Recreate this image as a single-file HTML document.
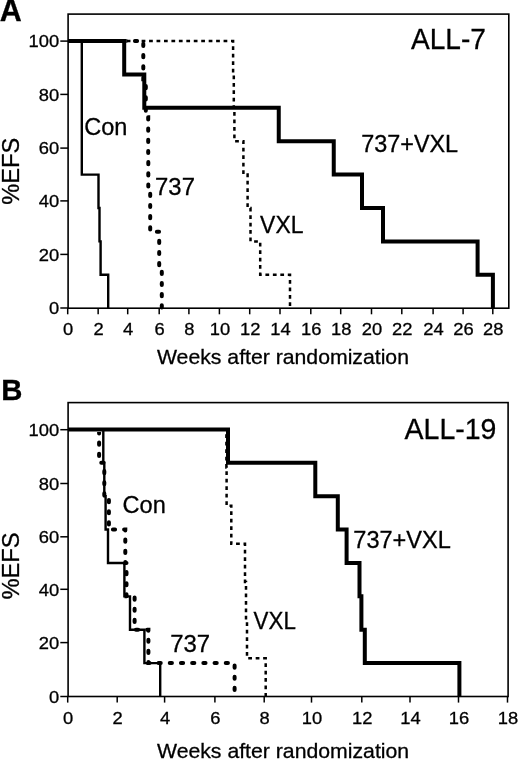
<!DOCTYPE html>
<html><head><meta charset="utf-8"><style>
html,body{margin:0;padding:0;background:#fff;}
svg{display:block;will-change:transform;}
text{font-family:"Liberation Sans", sans-serif;fill:#000;}
</style></head><body>
<svg width="520" height="762" viewBox="0 0 520 762">
<rect x="68.1" y="14.1" width="440.70" height="294.10" fill="none" stroke="#000" stroke-width="1.6"/>
<line x1="60.3" y1="308.00" x2="68.1" y2="308.00" stroke="#000" stroke-width="1.5"/>
<line x1="60.3" y1="254.40" x2="68.1" y2="254.40" stroke="#000" stroke-width="1.5"/>
<line x1="60.3" y1="200.90" x2="68.1" y2="200.90" stroke="#000" stroke-width="1.5"/>
<line x1="60.3" y1="148.10" x2="68.1" y2="148.10" stroke="#000" stroke-width="1.5"/>
<line x1="60.3" y1="94.40" x2="68.1" y2="94.40" stroke="#000" stroke-width="1.5"/>
<line x1="60.3" y1="41.10" x2="68.1" y2="41.10" stroke="#000" stroke-width="1.5"/>
<line x1="67.70" y1="308.20" x2="67.70" y2="314.30" stroke="#000" stroke-width="1.5"/>
<line x1="98.15" y1="308.20" x2="98.15" y2="314.30" stroke="#000" stroke-width="1.5"/>
<line x1="127.70" y1="308.20" x2="127.70" y2="314.30" stroke="#000" stroke-width="1.5"/>
<line x1="159.20" y1="308.20" x2="159.20" y2="314.30" stroke="#000" stroke-width="1.5"/>
<line x1="188.90" y1="308.20" x2="188.90" y2="314.30" stroke="#000" stroke-width="1.5"/>
<line x1="219.40" y1="308.20" x2="219.40" y2="314.30" stroke="#000" stroke-width="1.5"/>
<line x1="249.70" y1="308.20" x2="249.70" y2="314.30" stroke="#000" stroke-width="1.5"/>
<line x1="280.00" y1="308.20" x2="280.00" y2="314.30" stroke="#000" stroke-width="1.5"/>
<line x1="310.80" y1="308.20" x2="310.80" y2="314.30" stroke="#000" stroke-width="1.5"/>
<line x1="340.70" y1="308.20" x2="340.70" y2="314.30" stroke="#000" stroke-width="1.5"/>
<line x1="371.50" y1="308.20" x2="371.50" y2="314.30" stroke="#000" stroke-width="1.5"/>
<line x1="401.80" y1="308.20" x2="401.80" y2="314.30" stroke="#000" stroke-width="1.5"/>
<line x1="433.10" y1="308.20" x2="433.10" y2="314.30" stroke="#000" stroke-width="1.5"/>
<line x1="463.10" y1="308.20" x2="463.10" y2="314.30" stroke="#000" stroke-width="1.5"/>
<line x1="492.80" y1="308.20" x2="492.80" y2="314.30" stroke="#000" stroke-width="1.5"/>
<defs><clipPath id="cA"><path clip-rule="evenodd" d="M0,0H520V762H0Z M66,38.40H126.2V43.60H66Z"/></clipPath><clipPath id="cB"><path clip-rule="evenodd" d="M0,0H520V762H0Z M66,426.80H230V432.00H66Z"/></clipPath></defs>
<path d="M68.1,41.0 H233.1 V74.4 H233.8 V107.8 H234.4 V141.2 H243.4 V174.6 H247.6 V208.0 H250.5 V241.4 H260.2 V274.8 H290 V308.2" fill="none" stroke="#000" stroke-width="2.5" stroke-linecap="butt" stroke-linejoin="miter" clip-path="url(#cA)" stroke-dasharray="3.75 3.7" stroke-dashoffset="0.98"/>
<path d="M68.1,41.0 H143.3 V79.17 H145.8 V117.34 H148.2 V155.51 H148.3 V193.69 H150.2 V231.86 H159.2 V270.03 H161.8 V308.2" fill="none" stroke="#000" stroke-width="4.0" stroke-linecap="round" stroke-linejoin="miter" clip-path="url(#cA)" stroke-dasharray="2.2 9.0" stroke-dashoffset="0.38"/>
<path d="M68.1,41.0 H81.8 V174.6 H98.5 V208.0 H99.5 V241.4 H100.6 V274.8 H108.2 V308.2" fill="none" stroke="#000" stroke-width="2.4" stroke-linecap="butt" stroke-linejoin="miter"/>
<path d="M68.1,41.0 H124.2 V74.4 H144.3 V107.8 H278.75 V141.2 H333.75 V174.6 H362 V208.0 H383 V241.4 H477.6 V274.8 H492.9 V308.2" fill="none" stroke="#000" stroke-width="4.0" stroke-linecap="butt" stroke-linejoin="miter"/>
<rect x="68.1" y="402.6" width="440.00" height="293.90" fill="none" stroke="#000" stroke-width="1.6"/>
<line x1="60.3" y1="696.50" x2="68.1" y2="696.50" stroke="#000" stroke-width="1.5"/>
<line x1="60.3" y1="642.60" x2="68.1" y2="642.60" stroke="#000" stroke-width="1.5"/>
<line x1="60.3" y1="589.30" x2="68.1" y2="589.30" stroke="#000" stroke-width="1.5"/>
<line x1="60.3" y1="536.80" x2="68.1" y2="536.80" stroke="#000" stroke-width="1.5"/>
<line x1="60.3" y1="483.50" x2="68.1" y2="483.50" stroke="#000" stroke-width="1.5"/>
<line x1="60.3" y1="429.70" x2="68.1" y2="429.70" stroke="#000" stroke-width="1.5"/>
<line x1="67.70" y1="696.50" x2="67.70" y2="702.60" stroke="#000" stroke-width="1.5"/>
<line x1="117.20" y1="696.50" x2="117.20" y2="702.60" stroke="#000" stroke-width="1.5"/>
<line x1="164.60" y1="696.50" x2="164.60" y2="702.60" stroke="#000" stroke-width="1.5"/>
<line x1="214.90" y1="696.50" x2="214.90" y2="702.60" stroke="#000" stroke-width="1.5"/>
<line x1="264.20" y1="696.50" x2="264.20" y2="702.60" stroke="#000" stroke-width="1.5"/>
<line x1="311.50" y1="696.50" x2="311.50" y2="702.60" stroke="#000" stroke-width="1.5"/>
<line x1="361.80" y1="696.50" x2="361.80" y2="702.60" stroke="#000" stroke-width="1.5"/>
<line x1="410.00" y1="696.50" x2="410.00" y2="702.60" stroke="#000" stroke-width="1.5"/>
<line x1="458.50" y1="696.50" x2="458.50" y2="702.60" stroke="#000" stroke-width="1.5"/>
<line x1="507.50" y1="696.50" x2="507.50" y2="702.60" stroke="#000" stroke-width="1.5"/>
<path d="M68.1,429.4 H226.4 V467.56 H226.6 V505.71 H231.3 V543.87 H245 V582.03 H246 V620.19 H247 V658.34 H265.7 V696.5" fill="none" stroke="#000" stroke-width="2.5" stroke-linecap="butt" stroke-linejoin="miter" clip-path="url(#cB)" stroke-dasharray="3.75 3.7" stroke-dashoffset="0.68"/>
<path d="M68.1,429.4 H99.1 V462.79 H104.3 V496.17 H108.9 V529.56 H125.3 V562.95 H126.5 V596.34 H134.6 V629.72 H148.4 V663.11 H234.6 V696.5" fill="none" stroke="#000" stroke-width="4.0" stroke-linecap="round" stroke-linejoin="miter" clip-path="url(#cB)" stroke-dasharray="2.2 9.0" stroke-dashoffset="0.65"/>
<path d="M68.1,429.4 H103.3 V462.79 H104.3 V496.17 H105.6 V529.56 H108 V562.95 H124.4 V596.34 H130 V629.72 H144.4 V663.11 H160.2 V696.5" fill="none" stroke="#000" stroke-width="2.4" stroke-linecap="butt" stroke-linejoin="miter"/>
<path d="M68.1,429.4 H228 V462.79 H315.3 V496.17 H337.8 V529.56 H346.6 V562.95 H359.5 V596.34 H361.4 V629.72 H364.8 V663.11 H459.4 V696.5" fill="none" stroke="#000" stroke-width="4.0" stroke-linecap="butt" stroke-linejoin="miter"/>
<text x="59.20" y="314.30" font-size="17.0" text-anchor="end" textLength="10.21" lengthAdjust="spacingAndGlyphs" stroke="#000" stroke-width="0.3">0</text>
<text x="59.20" y="260.70" font-size="17.0" text-anchor="end" textLength="20.42" lengthAdjust="spacingAndGlyphs" stroke="#000" stroke-width="0.3">20</text>
<text x="59.20" y="207.20" font-size="17.0" text-anchor="end" textLength="20.42" lengthAdjust="spacingAndGlyphs" stroke="#000" stroke-width="0.3">40</text>
<text x="59.20" y="154.40" font-size="17.0" text-anchor="end" textLength="20.42" lengthAdjust="spacingAndGlyphs" stroke="#000" stroke-width="0.3">60</text>
<text x="59.20" y="100.70" font-size="17.0" text-anchor="end" textLength="20.42" lengthAdjust="spacingAndGlyphs" stroke="#000" stroke-width="0.3">80</text>
<text x="59.20" y="47.40" font-size="17.0" text-anchor="end" textLength="30.63" lengthAdjust="spacingAndGlyphs" stroke="#000" stroke-width="0.3">100</text>
<text x="59.20" y="702.80" font-size="17.0" text-anchor="end" textLength="10.21" lengthAdjust="spacingAndGlyphs" stroke="#000" stroke-width="0.3">0</text>
<text x="59.20" y="648.90" font-size="17.0" text-anchor="end" textLength="20.42" lengthAdjust="spacingAndGlyphs" stroke="#000" stroke-width="0.3">20</text>
<text x="59.20" y="595.60" font-size="17.0" text-anchor="end" textLength="20.42" lengthAdjust="spacingAndGlyphs" stroke="#000" stroke-width="0.3">40</text>
<text x="59.20" y="543.10" font-size="17.0" text-anchor="end" textLength="20.42" lengthAdjust="spacingAndGlyphs" stroke="#000" stroke-width="0.3">60</text>
<text x="59.20" y="489.80" font-size="17.0" text-anchor="end" textLength="20.42" lengthAdjust="spacingAndGlyphs" stroke="#000" stroke-width="0.3">80</text>
<text x="59.20" y="436.00" font-size="17.0" text-anchor="end" textLength="30.63" lengthAdjust="spacingAndGlyphs" stroke="#000" stroke-width="0.3">100</text>
<text x="68.20" y="334.70" font-size="17.0" text-anchor="middle" textLength="10.21" lengthAdjust="spacingAndGlyphs" stroke="#000" stroke-width="0.3">0</text>
<text x="98.65" y="334.70" font-size="17.0" text-anchor="middle" textLength="10.21" lengthAdjust="spacingAndGlyphs" stroke="#000" stroke-width="0.3">2</text>
<text x="128.20" y="334.70" font-size="17.0" text-anchor="middle" textLength="10.21" lengthAdjust="spacingAndGlyphs" stroke="#000" stroke-width="0.3">4</text>
<text x="159.70" y="334.70" font-size="17.0" text-anchor="middle" textLength="10.21" lengthAdjust="spacingAndGlyphs" stroke="#000" stroke-width="0.3">6</text>
<text x="189.40" y="334.70" font-size="17.0" text-anchor="middle" textLength="10.21" lengthAdjust="spacingAndGlyphs" stroke="#000" stroke-width="0.3">8</text>
<text x="219.90" y="334.70" font-size="17.0" text-anchor="middle" textLength="20.42" lengthAdjust="spacingAndGlyphs" stroke="#000" stroke-width="0.3">10</text>
<text x="250.20" y="334.70" font-size="17.0" text-anchor="middle" textLength="20.42" lengthAdjust="spacingAndGlyphs" stroke="#000" stroke-width="0.3">12</text>
<text x="280.50" y="334.70" font-size="17.0" text-anchor="middle" textLength="20.42" lengthAdjust="spacingAndGlyphs" stroke="#000" stroke-width="0.3">14</text>
<text x="311.30" y="334.70" font-size="17.0" text-anchor="middle" textLength="20.42" lengthAdjust="spacingAndGlyphs" stroke="#000" stroke-width="0.3">16</text>
<text x="341.20" y="334.70" font-size="17.0" text-anchor="middle" textLength="20.42" lengthAdjust="spacingAndGlyphs" stroke="#000" stroke-width="0.3">18</text>
<text x="372.00" y="334.70" font-size="17.0" text-anchor="middle" textLength="20.42" lengthAdjust="spacingAndGlyphs" stroke="#000" stroke-width="0.3">20</text>
<text x="402.30" y="334.70" font-size="17.0" text-anchor="middle" textLength="20.42" lengthAdjust="spacingAndGlyphs" stroke="#000" stroke-width="0.3">22</text>
<text x="433.60" y="334.70" font-size="17.0" text-anchor="middle" textLength="20.42" lengthAdjust="spacingAndGlyphs" stroke="#000" stroke-width="0.3">24</text>
<text x="463.60" y="334.70" font-size="17.0" text-anchor="middle" textLength="20.42" lengthAdjust="spacingAndGlyphs" stroke="#000" stroke-width="0.3">26</text>
<text x="493.30" y="334.70" font-size="17.0" text-anchor="middle" textLength="20.42" lengthAdjust="spacingAndGlyphs" stroke="#000" stroke-width="0.3">28</text>
<text x="68.20" y="723.70" font-size="17.0" text-anchor="middle" textLength="10.21" lengthAdjust="spacingAndGlyphs" stroke="#000" stroke-width="0.3">0</text>
<text x="117.70" y="723.70" font-size="17.0" text-anchor="middle" textLength="10.21" lengthAdjust="spacingAndGlyphs" stroke="#000" stroke-width="0.3">2</text>
<text x="165.10" y="723.70" font-size="17.0" text-anchor="middle" textLength="10.21" lengthAdjust="spacingAndGlyphs" stroke="#000" stroke-width="0.3">4</text>
<text x="215.40" y="723.70" font-size="17.0" text-anchor="middle" textLength="10.21" lengthAdjust="spacingAndGlyphs" stroke="#000" stroke-width="0.3">6</text>
<text x="264.70" y="723.70" font-size="17.0" text-anchor="middle" textLength="10.21" lengthAdjust="spacingAndGlyphs" stroke="#000" stroke-width="0.3">8</text>
<text x="312.00" y="723.70" font-size="17.0" text-anchor="middle" textLength="20.42" lengthAdjust="spacingAndGlyphs" stroke="#000" stroke-width="0.3">10</text>
<text x="362.30" y="723.70" font-size="17.0" text-anchor="middle" textLength="20.42" lengthAdjust="spacingAndGlyphs" stroke="#000" stroke-width="0.3">12</text>
<text x="410.50" y="723.70" font-size="17.0" text-anchor="middle" textLength="20.42" lengthAdjust="spacingAndGlyphs" stroke="#000" stroke-width="0.3">14</text>
<text x="459.00" y="723.70" font-size="17.0" text-anchor="middle" textLength="20.42" lengthAdjust="spacingAndGlyphs" stroke="#000" stroke-width="0.3">16</text>
<text x="508.00" y="723.70" font-size="17.0" text-anchor="middle" textLength="20.42" lengthAdjust="spacingAndGlyphs" stroke="#000" stroke-width="0.3">18</text>
<text x="-0.20" y="20.50" font-size="30.8" font-weight="bold" textLength="22.01" lengthAdjust="spacingAndGlyphs" stroke="#000" stroke-width="0.3">A</text>
<text x="1.32" y="400.00" font-size="30" font-weight="bold" textLength="21.18" lengthAdjust="spacingAndGlyphs" stroke="#000" stroke-width="0.3">B</text>
<text x="410.94" y="48.50" font-size="29.5" textLength="74.99" lengthAdjust="spacingAndGlyphs" stroke="#000" stroke-width="0.3">ALL-7</text>
<text x="404.59" y="439.00" font-size="29.5" textLength="91.88" lengthAdjust="spacingAndGlyphs" stroke="#000" stroke-width="0.3">ALL-19</text>
<text x="156.98" y="364.00" font-size="21" textLength="252.02" lengthAdjust="spacingAndGlyphs" stroke="#000" stroke-width="0.3">Weeks after randomization</text>
<text x="156.98" y="758.00" font-size="21" textLength="252.21" lengthAdjust="spacingAndGlyphs" stroke="#000" stroke-width="0.3">Weeks after randomization</text>
<text x="19.09" y="204.85" font-size="23" textLength="67.18" lengthAdjust="spacingAndGlyphs" transform="rotate(-90 19.09 204.85)" stroke="#000" stroke-width="0.3">%EFS</text>
<text x="19.09" y="599.51" font-size="23" textLength="67.20" lengthAdjust="spacingAndGlyphs" transform="rotate(-90 19.09 599.51)" stroke="#000" stroke-width="0.3">%EFS</text>
<text x="84.18" y="135.30" font-size="23.5" textLength="43.18" lengthAdjust="spacingAndGlyphs" stroke="#000" stroke-width="0.3">Con</text>
<text x="155.10" y="195.00" font-size="23.5" textLength="39.85" lengthAdjust="spacingAndGlyphs" stroke="#000" stroke-width="0.3">737</text>
<text x="260.12" y="233.00" font-size="23.5" textLength="43.28" lengthAdjust="spacingAndGlyphs" stroke="#000" stroke-width="0.3">VXL</text>
<text x="361.18" y="151.50" font-size="23.5" textLength="96.95" lengthAdjust="spacingAndGlyphs" stroke="#000" stroke-width="0.3">737+VXL</text>
<text x="122.62" y="512.80" font-size="23.5" textLength="43.22" lengthAdjust="spacingAndGlyphs" stroke="#000" stroke-width="0.3">Con</text>
<text x="170.23" y="652.00" font-size="23.5" textLength="39.95" lengthAdjust="spacingAndGlyphs" stroke="#000" stroke-width="0.3">737</text>
<text x="253.62" y="629.00" font-size="23.5" textLength="42.20" lengthAdjust="spacingAndGlyphs" stroke="#000" stroke-width="0.3">VXL</text>
<text x="353.34" y="548.00" font-size="23.5" textLength="97.54" lengthAdjust="spacingAndGlyphs" stroke="#000" stroke-width="0.3">737+VXL</text>
</svg>
</body></html>
